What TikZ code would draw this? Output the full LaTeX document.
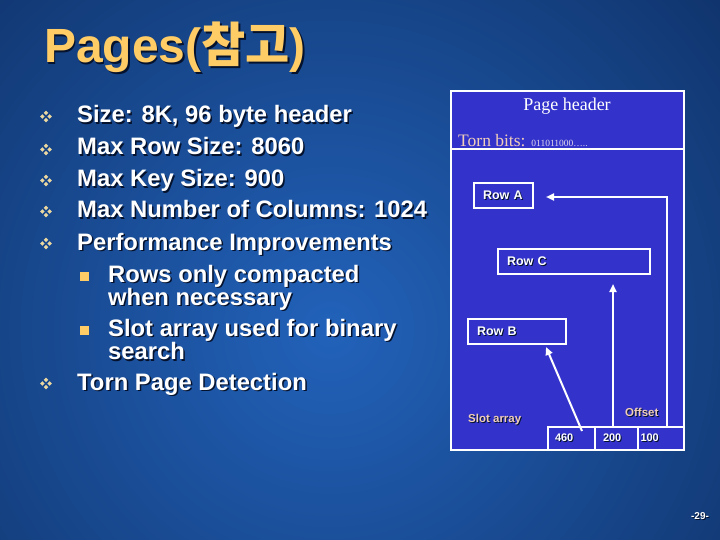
\documentclass[tikz,border=0pt]{standalone}
\usepackage{fontspec}
\setmainfont{Liberation Sans}
\newfontfamily\seriffam{Liberation Serif}
\newfontfamily\krfam{Noto Sans CJK KR}
\usetikzlibrary{arrows.meta}
\definecolor{bgdark}{RGB}{6,27,66}
\definecolor{bglight}{RGB}{34,98,186}
\definecolor{boxblue}{RGB}{51,51,204}
\definecolor{gold}{RGB}{255,204,102}
\definecolor{beige}{RGB}{235,215,160}
\definecolor{peach}{RGB}{240,205,185}
\definecolor{bitsc}{RGB}{225,215,235}
\definecolor{shadowc}{RGB}{5,18,45}
\newcommand\shd[2][1.5pt]{\makebox[0pt][l]{\hspace{#1}\raisebox{-#1}{\color{shadowc}#2}}#2}
\tikzset{
  wline/.style={draw=white, line width=2pt},
  pagebox/.style={wline, fill=boxblue, anchor=north west, inner sep=0pt},
  rowbox/.style={wline, fill=boxblue, anchor=north west, minimum height=25pt, inner xsep=9pt, inner ysep=0pt, align=left, text=white, font=\fontsize{12.5}{13}\selectfont\bfseries},
  cellbox/.style={wline, fill=boxblue, anchor=north west, minimum height=23pt, inner ysep=0pt, align=left, text=white, font=\fontsize{11}{12}\selectfont\bfseries},
  arr/.style={draw=white, line width=2pt, -{Triangle[length=8pt,width=7pt]}},
  btext/.style={anchor=base west, inner sep=0pt, text=white, font=\fontsize{23.8}{24}\selectfont\bfseries},
  smalllbl/.style={anchor=base west, inner sep=0pt, text=peach, font=\fontsize{11.5}{12}\selectfont\bfseries},
  vb/.pic={\foreach \dx/\dy in {0/3.6,0/-3.6,3.6/0,-3.6/0}{\fill[beige] (\dx-2.3,\dy) -- (\dx,\dy+2.3) -- (\dx+2.3,\dy) -- (\dx,\dy-2.3) -- cycle;}},
  sq/.pic={\fill[gold] (-4.5,-4.5) rectangle (4.5,4.5);}
}
\begin{document}
\begin{tikzpicture}[x=1pt,y=-1pt]
\useasboundingbox (0,0) rectangle (720,540);
% background
\fill[bgdark] (0,0) rectangle (720,540);
\begin{scope}
\clip (0,0) rectangle (720,540);
\shade[inner color=bglight, outer color=bgdark] (330,330) circle (800pt);
\end{scope}
% title
\node[anchor=base west, inner sep=0pt, text=gold, font=\fontsize{48}{48}\selectfont\bfseries] (title) at (44,63) {\shd{Pages({\krfam 참고})}};
% bullets
\pic at (46,116.5) {vb};
\pic at (46,149.5) {vb};
\pic at (46,180.5) {vb};
\pic at (46,211.5) {vb};
\pic at (46,243.5) {vb};
\pic at (46,383.5) {vb};
\pic at (84.5,276.5) {sq};
\pic at (84.5,330.5) {sq};
\node[btext] (b1) at (77,123) {\shd{Size: 8K, 96 byte header}};
\node[btext] (b2) at (77,155) {\shd{Max Row Size: 8060}};
\node[btext] (b3) at (77,187) {\shd{Max Key Size: 900}};
\node[btext] (b4) at (77,218) {\shd{Max Number of Columns: 1024}};
\node[btext] (b5) at (77,250) {\shd{Performance Improvements}};
\node[btext] (s1a) at (108,282) {\shd{Rows only compacted}};
\node[btext] (s1b) at (108,305) {\shd{when necessary}};
\node[btext] (s2a) at (108,336) {\shd{Slot array used for binary}};
\node[btext] (s2b) at (108,359.5) {\shd{search}};
\node[btext] (b6) at (77,390) {\shd{Torn Page Detection}};
% page diagram
\node[pagebox, minimum width=233pt, minimum height=359pt] (page) at (450,90) {};
\node[anchor=base, inner sep=0pt, text=white, font=\seriffam\fontsize{18}{18}\selectfont] (hdr) at (567,111) {Page header};
\node[anchor=base west, inner sep=0pt, font=\seriffam\fontsize{17.5}{18}\selectfont] (torn) at (458,146.5) {\textcolor{peach}{Torn bits:} \textcolor{bitsc}{\fontsize{9.5}{9}\selectfont 011011000…..}};
\coordinate (sepR) at (685,149);
\draw[wline] (page.west |- sepR) -- (sepR);
\node[rowbox, text width=41pt] (rowA) at (473,182) {\shd[1pt]{Row A}};
\node[rowbox, text width=134pt] (rowC) at (497,248) {\shd[1pt]{Row C}};
\node[rowbox, text width=80pt] (rowB) at (467,318) {\shd[1pt]{Row B}};
\node[cellbox, inner xsep=7pt, text width=33pt] (c460) at (547,426) {\shd[1pt]{460}};
\node[cellbox, inner xsep=8pt, text width=27pt] (c200) at (594,426) {\shd[1pt]{200}};
\node[cellbox, inner xsep=2.5pt, text width=41pt] (c100) at (637,426) {\shd[1pt]{100}};
\node[smalllbl] (slot) at (468,422) {\shd[1pt]{Slot array}};
\node[smalllbl] (offset) at (625,416) {\shd[1pt]{Offset}};
% connectors
\coordinate (s100) at (667,426);
\coordinate (tA) at (546,197);
\draw[arr] (s100) |- (tA);
\draw[arr] ([xshift=-3.5pt]c200.north) -- ([xshift=-3.5pt]c200.north |- rowC.south) [shorten >=9pt];
\coordinate (s460) at (582,431);
\coordinate (tB) at (546,347);
\draw[arr] (s460) -- (tB);
% page number
\node[inner sep=0pt, text=white, font=\fontsize{10}{10}\selectfont\bfseries] (pg) at (700,517) {\shd[1pt]{-29-}};
\end{tikzpicture}
\end{document}
